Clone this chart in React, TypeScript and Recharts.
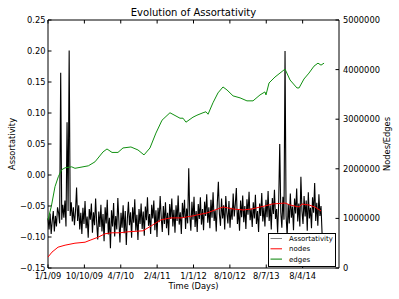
import { LineChart, Line, XAxis, YAxis, ReferenceArea } from "recharts";

// x axis: days since 1/1/09
const tickDays = [0, 275, 550, 825, 1100, 1375, 1650, 1925];
const tickLabels = ["1/1/09", "10/10/09", "4/7/10", "2/4/11", "1/1/12", "8/10/12", "8/7/13", "8/4/14"];
const assortTicks = [-0.15, -0.1, -0.05, 0, 0.05, 0.1, 0.15, 0.2, 0.25];
const countTicks = [0, 1000000, 2000000, 3000000, 4000000, 5000000];

// assortativity sampled every 8 days
const stepDays = 8;
const assortativity = [
  -0.070, -0.088, -0.062, -0.095, -0.074, -0.058, -0.091, -0.066, -0.083, -0.052,
  -0.061, -0.078, 0.165, -0.072, -0.048, -0.069, -0.041, -0.083, 0.085, -0.058,
  0.201, -0.066, -0.044, -0.075, -0.052, -0.081, -0.058, -0.020, -0.074, -0.049,
  -0.088, -0.061, -0.095, -0.053, -0.079, -0.042, -0.086, -0.067, -0.101, -0.055,
  -0.072, -0.046, -0.093, -0.060, -0.081, -0.038, -0.077, -0.104, -0.059, -0.084,
  -0.048, -0.091, -0.063, -0.107, -0.052, -0.078, -0.040, -0.096, -0.069, -0.118,
  -0.057, -0.083, -0.045, -0.099, -0.066, -0.088, -0.037, -0.074, -0.109, -0.061,
  -0.085, -0.049, -0.094, -0.058, -0.113, -0.070, -0.043, -0.081, -0.060, -0.101,
  -0.052, -0.077, -0.039, -0.090, -0.064, -0.105, -0.055, -0.079, -0.046, -0.087,
  -0.059, -0.098, -0.051, -0.073, -0.036, -0.082, -0.063, -0.095, -0.048, -0.070,
  -0.041, -0.089, -0.057, -0.100, -0.053, -0.076, -0.034, -0.068, -0.092, -0.050,
  -0.079, -0.044, -0.086, -0.061, -0.097, -0.047, -0.071, -0.038, -0.083, -0.056,
  -0.093, -0.049, -0.074, -0.033, -0.080, -0.060, -0.095, -0.045, -0.069, -0.040,
  -0.087, -0.054, -0.078, 0.011, -0.066, -0.090, -0.043, -0.072, -0.035, -0.084,
  -0.058, -0.092, -0.047, -0.071, -0.036, -0.080, -0.055, -0.089, -0.043, -0.066,
  -0.031, -0.077, -0.052, -0.086, -0.040, -0.069, -0.028, -0.074, -0.057, -0.091,
  -0.045, -0.011, -0.063, -0.082, -0.038, -0.070, -0.049, -0.088, -0.034, -0.061,
  -0.078, -0.042, -0.085, -0.053, -0.072, -0.030, -0.067, -0.047, -0.021, -0.079,
  -0.056, -0.090, -0.041, -0.068, -0.033, -0.076, -0.050, -0.087, -0.039, -0.064,
  -0.027, -0.073, -0.054, -0.084, -0.044, -0.070, -0.032, -0.079, -0.058, -0.092,
  -0.046, -0.066, -0.029, -0.075, -0.052, -0.083, -0.040, -0.068, -0.026, -0.074,
  -0.049, -0.088, -0.037, -0.063, -0.024, -0.071, -0.055, -0.093, -0.044, 0.050,
  -0.060, -0.085, -0.035, -0.072, 0.200, -0.066, -0.098, -0.047, -0.078, -0.030,
  -0.069, -0.051, -0.089, -0.038, -0.062, -0.022, -0.075, -0.046, -0.083, -0.003,
  -0.058, -0.079, -0.034, -0.067, -0.041, -0.090, -0.028, -0.070, -0.053, -0.086,
  -0.036, -0.061, -0.013, -0.074, -0.045, -0.082, -0.031, -0.066, -0.050, -0.094,
  -0.118,
];

const nodeDays = [0, 30, 76, 129, 204, 280, 318, 378, 431, 484, 544, 605, 718, 756, 854, 930, 1005, 1096, 1126, 1202, 1263, 1323, 1399, 1474, 1542, 1603, 1640, 1693, 1792, 1830, 1898, 1920, 1973, 2018, 2064];
const nodes = [220000, 320000, 420000, 460000, 500000, 520000, 560000, 620000, 690000, 710000, 710000, 730000, 750000, 810000, 970000, 1010000, 1010000, 1050000, 1070000, 1110000, 1170000, 1230000, 1190000, 1170000, 1190000, 1230000, 1250000, 1290000, 1310000, 1270000, 1230000, 1290000, 1270000, 1230000, 1150000];

const edgeDays = [0, 25, 53, 78, 103, 129, 179, 204, 305, 355, 416, 446, 484, 529, 567, 627, 680, 726, 771, 816, 862, 922, 998, 1021, 1043, 1096, 1126, 1172, 1194, 1210, 1247, 1285, 1323, 1353, 1399, 1452, 1504, 1550, 1603, 1640, 1648, 1671, 1716, 1754, 1792, 1830, 1882, 1898, 1935, 1973, 2011, 2041, 2064, 2087];
const edges = [970000, 1240000, 1640000, 1840000, 1980000, 2020000, 2040000, 2010000, 2060000, 2140000, 2340000, 2400000, 2330000, 2330000, 2420000, 2440000, 2380000, 2280000, 2420000, 2720000, 2980000, 3130000, 3020000, 3020000, 2940000, 3040000, 3080000, 3130000, 3150000, 3100000, 3330000, 3530000, 3650000, 3590000, 3470000, 3430000, 3370000, 3370000, 3490000, 3550000, 3490000, 3730000, 3850000, 3930000, 4010000, 3790000, 3630000, 3630000, 3810000, 3930000, 4070000, 4130000, 4090000, 4130000];

const assortData = assortativity.map((v, i) => ({ day: i * stepDays, v }));
const nodeData = nodeDays.map((d, i) => ({ day: d, v: nodes[i] }));
const edgeData = edgeDays.map((d, i) => ({ day: d, v: edges[i] }));

const legendItems = [
  { name: "Assortativity", color: "#808080" },
  { name: "nodes", color: "#ff0000" },
  { name: "edges", color: "#008000" },
];

const PLOT = { left: 48, right: 339, top: 20, bottom: 268 };
const TICK = 3.5;
const FONT = "'DejaVu Sans', sans-serif";

const TimeTick = (props: any) => {
  const { x, payload } = props;
  const label = tickLabels[tickDays.indexOf(payload.value)];
  return (
    <g>
      <line x1={x} x2={x} y1={PLOT.bottom} y2={PLOT.bottom - TICK} stroke="#000" />
      <line x1={x} x2={x} y1={PLOT.top} y2={PLOT.top + TICK} stroke="#000" />
      <text x={x} y={PLOT.bottom + 11} textAnchor="middle" fontSize={8.3} fontFamily={FONT} fill="#000">
        {label}
      </text>
    </g>
  );
};

const AssortTick = (props: any) => {
  const { y, payload } = props;
  const v = payload.value;
  const label = (v < 0 ? "\u2212" : "") + Math.abs(v).toFixed(2);
  return (
    <g>
      <line x1={PLOT.left} x2={PLOT.left + TICK} y1={y} y2={y} stroke="#000" />
      <text x={PLOT.left - 2.5} y={y} dy="0.35em" textAnchor="end" fontSize={8.3} fontFamily={FONT} fill="#000">
        {label}
      </text>
    </g>
  );
};

const CountTick = (props: any) => {
  const { y, payload } = props;
  return (
    <g>
      <line x1={PLOT.right} x2={PLOT.right - TICK} y1={y} y2={y} stroke="#000" />
      <text x={PLOT.right + 4} y={y} dy="0.35em" textAnchor="start" fontSize={8.3} fontFamily={FONT} fill="#000">
        {String(payload.value)}
      </text>
    </g>
  );
};

export default function App() {
  return (
    <div style={{ position: "relative", width: 399, height: 299, background: "#fff" }}>
      <style>{"body{margin:0}"}</style>
      <LineChart width={399} height={299} margin={{ top: 20, right: 0, bottom: 0, left: 0 }}>
        <XAxis
          dataKey="day"
          type="number"
          domain={[0, 2200]}
          ticks={tickDays}
          height={31}
          tickSize={0}
          tickLine={false}
          axisLine={false}
          tick={<TimeTick />}
          interval={0}
        />
        <YAxis
          yAxisId="left"
          type="number"
          domain={[-0.15, 0.25]}
          ticks={assortTicks}
          width={48}
          tickSize={0}
          tickLine={false}
          axisLine={false}
          tick={<AssortTick />}
          interval={0}
        />
        <YAxis
          yAxisId="right"
          orientation="right"
          type="number"
          domain={[0, 5000000]}
          ticks={countTicks}
          width={60}
          tickSize={0}
          tickLine={false}
          axisLine={false}
          tick={<CountTick />}
          interval={0}
        />
        <Line
          yAxisId="left"
          data={assortData}
          dataKey="v"
          name="Assortativity"
          stroke="#000"
          strokeWidth={1.1}
          dot={false}
          isAnimationActive={false}
        />
        <Line
          yAxisId="right"
          data={nodeData}
          dataKey="v"
          name="nodes"
          stroke="#ff0000"
          strokeWidth={1}
          dot={false}
          isAnimationActive={false}
        />
        <Line
          yAxisId="right"
          data={edgeData}
          dataKey="v"
          name="edges"
          stroke="#109010"
          strokeWidth={1}
          dot={false}
          isAnimationActive={false}
        />
        <ReferenceArea
          yAxisId="left"
          x1={0}
          x2={2200}
          y1={-0.15}
          y2={0.25}
          fill="none"
          fillOpacity={0}
          stroke="#000"
          strokeWidth={1}
        />
      </LineChart>
      <svg
        width={399}
        height={299}
        style={{ position: "absolute", left: 0, top: 0, pointerEvents: "none" }}
        fontFamily={FONT}
      >
        <text x={193.5} y={16} textAnchor="middle" fontSize={10}>
          Evolution of Assortativity
        </text>
        <text x={193.5} y={289} textAnchor="middle" fontSize={8.3}>
          Time (Days)
        </text>
        <text x={12} y={144} textAnchor="middle" dy="0.35em" fontSize={8.3} transform="rotate(-90 12 144)">
          Assortativity
        </text>
        <text x={387} y={144} textAnchor="middle" dy="0.35em" fontSize={8.3} transform="rotate(-90 387 144)">
          Nodes/Edges
        </text>
        <rect x={268.5} y={233.5} width={67} height={33} fill="#fff" stroke="#000" strokeWidth={1} />
        {legendItems.map((item, i) => (
          <g key={item.name}>
            <line x1={270.5} x2={282} y1={238.5 + i * 10.3} y2={238.5 + i * 10.3} stroke={item.color} strokeWidth={1} />
            <text x={289} y={238.5 + i * 10.3} dy="0.35em" fontSize={7}>
              {item.name}
            </text>
          </g>
        ))}
      </svg>
    </div>
  );
}
